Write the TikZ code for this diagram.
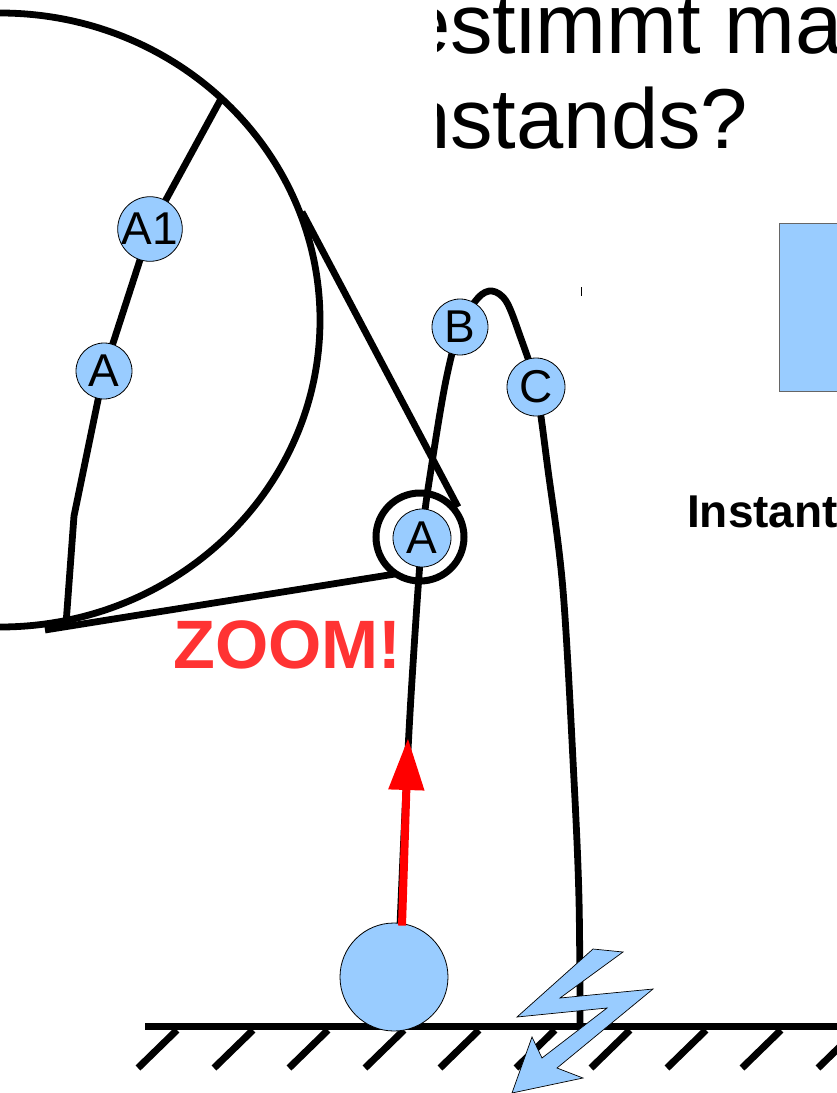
\documentclass[tikz,border=0pt]{standalone}
\usepackage{fontspec}
\setmainfont{Liberation Sans}
\usetikzlibrary{arrows.meta}
\definecolor{lblue}{HTML}{99CCFF}
\definecolor{zred}{HTML}{FF3333}
\begin{document}
\begin{tikzpicture}[x=1pt,y=-1pt,
  thickline/.style={line width=6.8pt, line join=round},
  ball/.style={circle, fill=lblue, draw=black, line width=0.8pt, inner sep=0pt,
    minimum size=#1, font=\fontsize{46}{46}\selectfont},
  hatch/.style={line width=7pt},
  title/.style={anchor=base west, inner sep=0pt, font=\fontsize{85}{85}\selectfont},
]
\useasboundingbox (0,0) rectangle (837,1093);

% title text, clipped on the left
\begin{scope}
  \clip (437,0) rectangle (837,200);
  \node[title] (t1) at (403,53) {estimmt man};
  \node[title] (t2) at (403,148) {nstands?};
\end{scope}

% big zoomed ellipse
\draw[thickline] (0,320) ellipse [x radius=320, y radius=307];
\coordinate (etop) at (222,97);
\coordinate (ek) at (74,516);
\coordinate (ebot) at (66,624);
\coordinate (tg1) at (302,212);
\coordinate (tg2) at (458,507);
\coordinate (bl1) at (45,630);
\coordinate (bl2) at (395,574);
\draw[thickline] (etop) -- (150,229) -- (104,371) -- (ek) -- (ebot);
\node[ball=56pt] (a1) at (150,229) {A1};
\node[ball=56pt] (a0) at (104,371) {A};

% tangent lines to the ring
\draw[thickline] (tg1) -- (tg2);
\draw[thickline] (bl1) -- (bl2);

% trajectory
\draw[thickline] plot[smooth, tension=0.55] coordinates {
  (400,925) (406,790) (412,680) (422,538) (432,463) (446,380) (460,327)
  (478,298) (492,291) (506,301) (519,333) (536,387) (548,470) (563,590)
  (574,780) (579,900) (580,1024)};

% ring and nodes
\draw[line width=7pt] (420,537) circle (44);
\node[ball=58pt] (a) at (422,538) {A};
\node[ball=56pt] (b) at (460,327) {B};
\node[ball=58pt] (c) at (536,387) {C};

% ZOOM label
\node[anchor=base west, inner sep=0pt, text=zred,
  font=\fontsize{68.5}{68.5}\selectfont\bfseries] (zoom) at (173,668) {ZOOM!};

% ground
\draw[line width=7pt] (145,1026) -- (837,1026);
\foreach \x in {177,253,328,404,479,555,630,706,781,857}
  \draw[hatch] (\x,1030) -- (\x-39,1068);

% ball
\node[circle, fill=lblue, draw=black, line width=0.8pt, inner sep=0pt,
  minimum size=108pt] (ballnode) at (394,977) {};

% red arrow
\coordinate (arrtip) at (408,738);
\draw[red, line width=8pt, -{Triangle[length=52pt,width=34pt]}]
  (ballnode.north) ++(8,3) -- (arrtip);

% lightning bolt
\draw[fill=lblue, draw=black, line width=0.7pt, line join=miter]
  (593,949) -- (623,952) -- (560,998) -- (653,989) -- (557,1068) -- (583,1078)
  -- (512,1093) -- (532,1037) -- (542,1058) -- (607,1008) -- (517,1017) -- cycle;

% right box and text
\draw[fill=lblue, draw=black!60, line width=0.8pt] (779,223) rectangle (845,391);
\node[anchor=base west, inner sep=0pt, font=\fontsize{46}{46}\selectfont\bfseries]
  (inst) at (687,527) {Instant};

% small tick
\draw[line width=1pt] (581,287) -- (581,296);
\end{tikzpicture}
\end{document}
